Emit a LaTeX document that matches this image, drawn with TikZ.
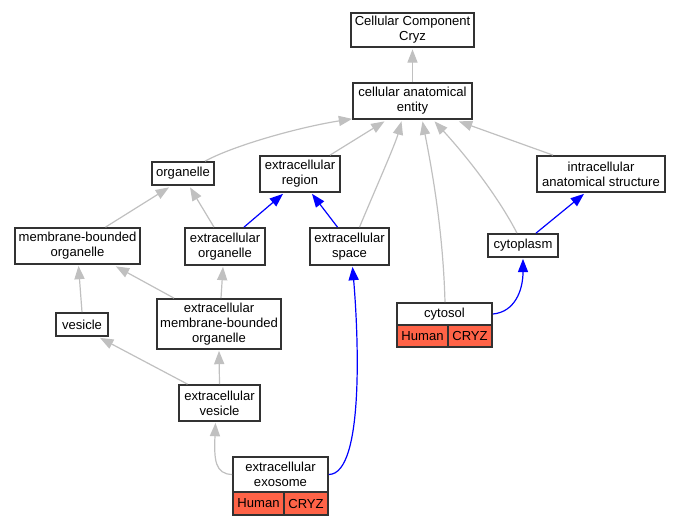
\documentclass[tikz,border=0pt]{standalone}
\usepackage{fontspec}
\setmainfont{Liberation Sans}
\usetikzlibrary{arrows.meta,calc}
\definecolor{tomatored}{RGB}{255,99,71}
\definecolor{lgray}{RGB}{192,192,192}
\definecolor{edgeblue}{RGB}{0,0,255}
\definecolor{boxline}{RGB}{50,50,50}
\tikzset{
  box/.style={draw=boxline, line width=1.3pt, fill=white, inner sep=0pt, align=center,
    font=\fontsize{9.8pt}{11.25pt}\selectfont},
  cell/.style={box, fill=tomatored},
  isa/.style={draw=lgray, line width=0.9pt, -{Triangle[length=10pt,width=7.6pt]}},
  partof/.style={draw=edgeblue, line width=0.9pt, -{Triangle[length=10pt,width=7.6pt]}}
}
\begin{document}
\begin{tikzpicture}[x=0.75pt,y=-0.75pt]
\useasboundingbox (0,0) rectangle (681,525);
% nodes
\node[box, minimum width=92.25pt, minimum height=25.5pt] (ccc) at (412.5,30) {Cellular Component\\Cryz};
\node[box, minimum width=89.25pt, minimum height=27pt] (cae) at (412.5,101) {cellular anatomical\\entity};
\node[box, minimum width=46.5pt, minimum height=17.25pt] (org) at (183,173.5) {organelle};
\node[box, minimum width=60pt, minimum height=27pt] (exreg) at (300,174) {extracellular\\region};
\node[box, minimum width=96pt, minimum height=27pt] (ias) at (601,174) {intracellular\\anatomical structure};
\node[box, minimum width=93.75pt, minimum height=27pt] (mbo) at (77.5,246) {membrane-bounded\\organelle};
\node[box, minimum width=60pt, minimum height=27.75pt] (exorg) at (225,246.5) {extracellular\\organelle};
\node[box, minimum width=59.25pt, minimum height=27.75pt] (exsp) at (349.5,246.5) {extracellular\\space};
\node[box, minimum width=52.5pt, minimum height=17.25pt] (cytoplasm) at (523,245.5) {cytoplasm};
\node[box, minimum width=39pt, minimum height=17.25pt] (vesicle) at (82,324.5) {vesicle};
\node[box, minimum width=93pt, minimum height=37.5pt] (embo) at (219,324) {extracellular\\membrane-bounded\\organelle};
\node[box, minimum width=60.75pt, minimum height=27pt] (ev) at (219.5,403) {extracellular\\vesicle};
% cytosol table
\node[box, minimum width=71.25pt, minimum height=16.5pt] (cytosol) at (444.5,314) {cytosol};
\node[cell, minimum width=38.25pt, minimum height=16.5pt] (cytosolh) at (422.5,336) {Human};
\node[cell, minimum width=33pt, minimum height=16.5pt] (cytosolg) at (470,336) {CRYZ};
% exosome table
\node[box, minimum width=71.25pt, minimum height=26.25pt] (exo) at (280.5,474.5) {extracellular\\exosome};
\node[cell, minimum width=38.25pt, minimum height=17.25pt] (exoh) at (258.5,503.5) {Human};
\node[cell, minimum width=33pt, minimum height=17.25pt] (exog) at (306,503.5) {CRYZ};
% is-a edges
\draw[isa] (cae.north) -- ($(ccc.south)+(0,1.5)$);
\draw[isa] ($(org.north)+(22,0)$) .. controls (235,145) and (300,127) .. ($(cae.south west)+(0,-1)$);
\draw[isa] ($(exreg.north)+(30,0)$) -- ($(cae.south)+(-28,1.5)$);
\draw[isa] ($(exsp.north)+(10,0)$) .. controls (375,190) and (395,145) .. ($(cae.south)+(-11,1.5)$);
\draw[isa] ($(cytosol.north)+(0.5,0)$) .. controls (443,230) and (432,170) .. ($(cae.south)+(10,1.5)$);
\draw[isa] ($(cytoplasm.north)+(-6,0)$) .. controls (500,200) and (470,160) .. ($(cae.south)+(22,1.5)$);
\draw[isa] ($(ias.north)+(-48,0)$) -- ($(cae.south east)+(-14,1.5)$);
\draw[isa] ($(mbo.north)+(28,0)$) -- ($(org.south)+(-14,1.5)$);
\draw[isa] ($(exorg.north)+(-11,0)$) -- ($(org.south)+(7,1.5)$);
\draw[isa] (vesicle.north) -- ($(mbo.south)+(1,1)$);
\draw[isa] ($(embo.north)+(-45,0)$) -- ($(mbo.south east)+(-25,1.5)$);
\draw[isa] ($(embo.north)+(2,0)$) -- ($(exorg.south)+(-2,1)$);
\draw[isa] ($(ev.north)+(-32,0)$) -- ($(vesicle.south)+(18,1)$);
\draw[isa] (ev.north) -- ($(embo.south)+(0,1)$);
\draw[isa] (exo.west) .. controls (215,474) and (214,460) .. ($(ev.south)+(-4,1)$);
% part-of edges
\draw[partof] ($(exorg.north)+(19,0)$) -- ($(exreg.south)+(-17,1)$);
\draw[partof] ($(exsp.north)+(-12,0)$) -- ($(exreg.south)+(12,1)$);
\draw[partof] ($(cytoplasm.north)+(13,0)$) -- ($(ias.south)+(-17,1)$);
\draw[partof] (cytosol.east) .. controls (515,312) and (523,290) .. ($(cytoplasm.south)+(0,1)$);
\draw[partof] (exo.east) .. controls (365,474) and (358,330) .. ($(exsp.south)+(3,1)$);
\end{tikzpicture}
\end{document}
